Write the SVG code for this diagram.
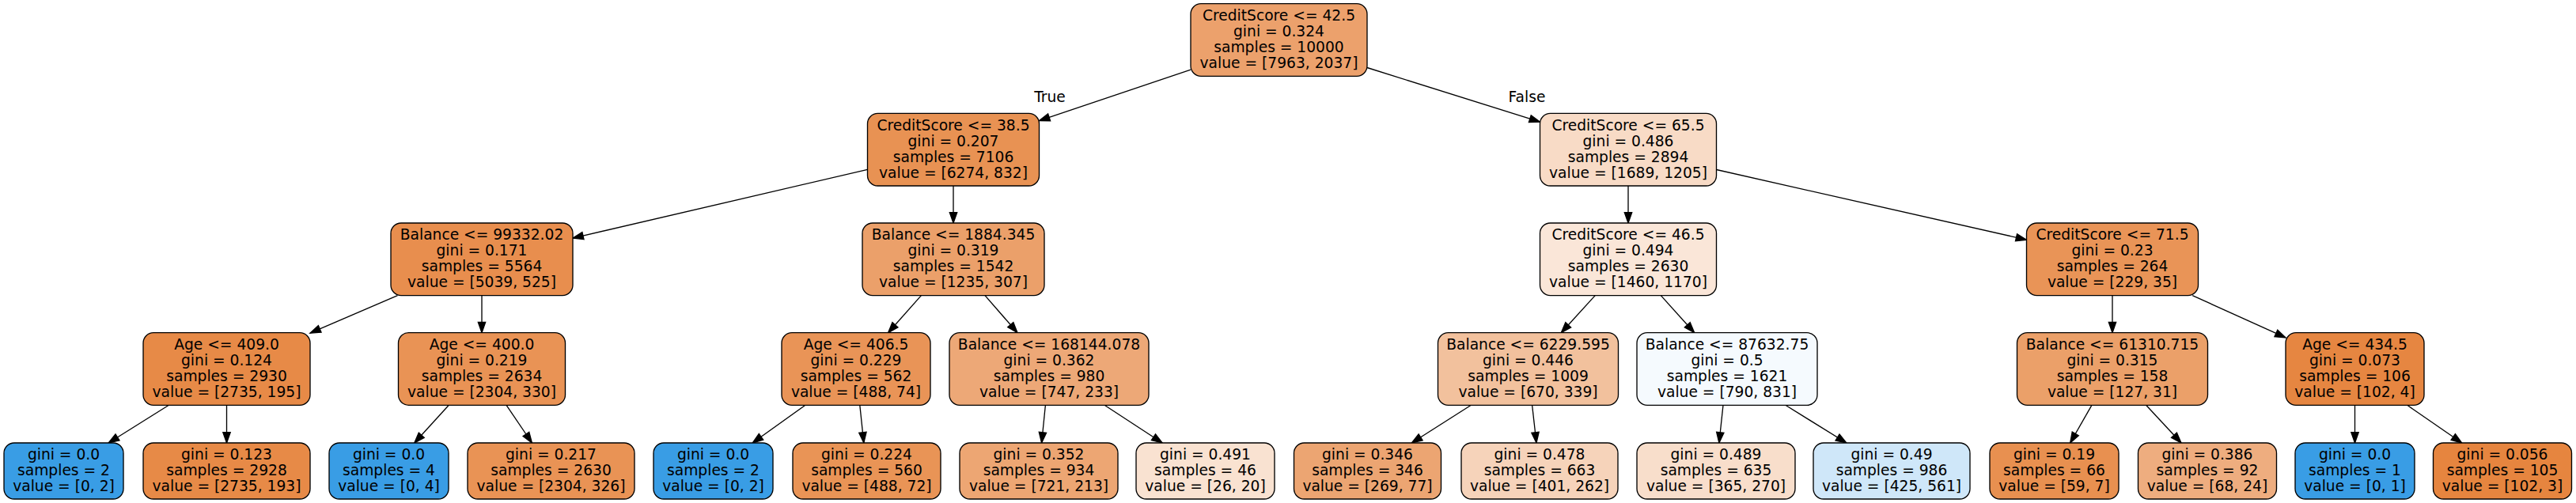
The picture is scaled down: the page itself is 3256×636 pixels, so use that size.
<svg xmlns="http://www.w3.org/2000/svg" width="3256" height="636" viewBox="0 0 3256 636">
<style>
.n rect{stroke:#000;stroke-width:1.33}
.n text,.lbl{font-family:"DejaVu Sans","Liberation Sans",sans-serif;font-size:18.67px;fill:#000;text-anchor:middle}
#edges line{stroke:#000;stroke-width:1.33;marker-end:url(#ah)}
</style>
<defs>
<marker id="ah" viewBox="0 -6 16 12" markerWidth="16" markerHeight="12" refX="13.3" refY="0" orient="auto" markerUnits="userSpaceOnUse" overflow="visible">
<path d="M0,-4.67 L13.3,0 L0,4.67 Z" fill="#000" stroke="#000" stroke-width="1.33"/>
</marker>
</defs>
<rect width="3256" height="636" fill="#fff"/>
<g id="edges">
<line x1="1505" y1="88.1" x2="1313.5" y2="152.6"/>
<line x1="1728" y1="85.5" x2="1946.5" y2="154.2"/>
<line x1="1096.5" y1="214.4" x2="724" y2="301.1"/>
<line x1="1205" y1="235" x2="1205" y2="282"/>
<line x1="502.5" y1="373.6" x2="392" y2="421.1"/>
<line x1="609" y1="373.6" x2="609" y2="420.7"/>
<line x1="213.4" y1="512.3" x2="137.2" y2="560"/>
<line x1="286.5" y1="512.3" x2="286.5" y2="560"/>
<line x1="567.3" y1="512.3" x2="523.8" y2="560"/>
<line x1="640.1" y1="512.3" x2="672.4" y2="560"/>
<line x1="1164.4" y1="373.6" x2="1122.6" y2="420.7"/>
<line x1="1245" y1="373.6" x2="1286" y2="420.7"/>
<line x1="1017.9" y1="512.3" x2="951.2" y2="560"/>
<line x1="1086.8" y1="512.3" x2="1091.8" y2="560"/>
<line x1="1321.4" y1="512.3" x2="1316.6" y2="560"/>
<line x1="1396.1" y1="512.3" x2="1469.1" y2="560"/>
<line x1="2058" y1="235" x2="2058" y2="282"/>
<line x1="2169.5" y1="214.5" x2="2561.5" y2="303.2"/>
<line x1="2016.2" y1="373.6" x2="1973.3" y2="420.7"/>
<line x1="2099.3" y1="373.6" x2="2141.7" y2="420.7"/>
<line x1="1859.4" y1="512.3" x2="1784.4" y2="560"/>
<line x1="1936.6" y1="512.3" x2="1942" y2="560"/>
<line x1="2178" y1="512.3" x2="2172.9" y2="560"/>
<line x1="2256.8" y1="512.3" x2="2333.8" y2="560"/>
<line x1="2670" y1="373.6" x2="2670" y2="420.7"/>
<line x1="2771.2" y1="373.6" x2="2889" y2="426.9"/>
<line x1="2643.9" y1="512.3" x2="2616.7" y2="560"/>
<line x1="2712.6" y1="512.3" x2="2757" y2="560"/>
<line x1="2976.5" y1="512.3" x2="2976.5" y2="560"/>
<line x1="3042.7" y1="512.3" x2="3111.7" y2="560"/>
<text class="lbl" x="1327" y="128.5">True</text>
<text class="lbl" x="1930" y="129">False</text>
</g>
<g id="n0" class="n"><rect x="1505" y="4.7" width="223" height="91.6" rx="13" fill="#eca16c"/><text><tspan x="1616.5" y="26">CreditScore &lt;= 42.5</tspan><tspan x="1616.5" y="46">gini = 0.324</tspan><tspan x="1616.5" y="66">samples = 10000</tspan><tspan x="1616.5" y="86">value = [7963, 2037]</tspan></text></g>
<g id="n1" class="n"><rect x="1096.5" y="143.4" width="217" height="91.6" rx="13" fill="#e89253"/><text><tspan x="1205" y="164.7">CreditScore &lt;= 38.5</tspan><tspan x="1205" y="184.7">gini = 0.207</tspan><tspan x="1205" y="204.7">samples = 7106</tspan><tspan x="1205" y="224.7">value = [6274, 832]</tspan></text></g>
<g id="n2" class="n"><rect x="494" y="282" width="230" height="91.6" rx="13" fill="#e88e4e"/><text><tspan x="609" y="303.3">Balance &lt;= 99332.02</tspan><tspan x="609" y="323.3">gini = 0.171</tspan><tspan x="609" y="343.3">samples = 5564</tspan><tspan x="609" y="363.3">value = [5039, 525]</tspan></text></g>
<g id="n3" class="n"><rect x="181" y="420.7" width="211" height="91.6" rx="13" fill="#e78a47"/><text><tspan x="286.5" y="442">Age &lt;= 409.0</tspan><tspan x="286.5" y="462">gini = 0.124</tspan><tspan x="286.5" y="482">samples = 2930</tspan><tspan x="286.5" y="502">value = [2735, 195]</tspan></text></g>
<g id="n4" class="n"><rect x="5" y="560" width="151" height="71" rx="13" fill="#399de5"/><text><tspan x="80.5" y="581">gini = 0.0</tspan><tspan x="80.5" y="601">samples = 2</tspan><tspan x="80.5" y="621">value = [0, 2]</tspan></text></g>
<g id="n5" class="n"><rect x="181" y="560" width="211" height="71" rx="13" fill="#e78a47"/><text><tspan x="286.5" y="581">gini = 0.123</tspan><tspan x="286.5" y="601">samples = 2928</tspan><tspan x="286.5" y="621">value = [2735, 193]</tspan></text></g>
<g id="n6" class="n"><rect x="503.5" y="420.7" width="211" height="91.6" rx="13" fill="#e99355"/><text><tspan x="609" y="442">Age &lt;= 400.0</tspan><tspan x="609" y="462">gini = 0.219</tspan><tspan x="609" y="482">samples = 2634</tspan><tspan x="609" y="502">value = [2304, 330]</tspan></text></g>
<g id="n7" class="n"><rect x="416" y="560" width="151" height="71" rx="13" fill="#399de5"/><text><tspan x="491.5" y="581">gini = 0.0</tspan><tspan x="491.5" y="601">samples = 4</tspan><tspan x="491.5" y="621">value = [0, 4]</tspan></text></g>
<g id="n8" class="n"><rect x="591" y="560" width="211" height="71" rx="13" fill="#e99355"/><text><tspan x="696.5" y="581">gini = 0.217</tspan><tspan x="696.5" y="601">samples = 2630</tspan><tspan x="696.5" y="621">value = [2304, 326]</tspan></text></g>
<g id="n9" class="n"><rect x="1090" y="282" width="230" height="91.6" rx="13" fill="#eba06a"/><text><tspan x="1205" y="303.3">Balance &lt;= 1884.345</tspan><tspan x="1205" y="323.3">gini = 0.319</tspan><tspan x="1205" y="343.3">samples = 1542</tspan><tspan x="1205" y="363.3">value = [1235, 307]</tspan></text></g>
<g id="n10" class="n"><rect x="988" y="420.7" width="188" height="91.6" rx="13" fill="#e99457"/><text><tspan x="1082" y="442">Age &lt;= 406.5</tspan><tspan x="1082" y="462">gini = 0.229</tspan><tspan x="1082" y="482">samples = 562</tspan><tspan x="1082" y="502">value = [488, 74]</tspan></text></g>
<g id="n11" class="n"><rect x="826" y="560" width="151" height="71" rx="13" fill="#399de5"/><text><tspan x="901.5" y="581">gini = 0.0</tspan><tspan x="901.5" y="601">samples = 2</tspan><tspan x="901.5" y="621">value = [0, 2]</tspan></text></g>
<g id="n12" class="n"><rect x="1002" y="560" width="187" height="71" rx="13" fill="#e99456"/><text><tspan x="1095.5" y="581">gini = 0.224</tspan><tspan x="1095.5" y="601">samples = 560</tspan><tspan x="1095.5" y="621">value = [488, 72]</tspan></text></g>
<g id="n13" class="n"><rect x="1200" y="420.7" width="252" height="91.6" rx="13" fill="#eda877"/><text><tspan x="1326" y="442">Balance &lt;= 168144.078</tspan><tspan x="1326" y="462">gini = 0.362</tspan><tspan x="1326" y="482">samples = 980</tspan><tspan x="1326" y="502">value = [747, 233]</tspan></text></g>
<g id="n14" class="n"><rect x="1213" y="560" width="200" height="71" rx="13" fill="#eda673"/><text><tspan x="1313" y="581">gini = 0.352</tspan><tspan x="1313" y="601">samples = 934</tspan><tspan x="1313" y="621">value = [721, 213]</tspan></text></g>
<g id="n15" class="n"><rect x="1436" y="560" width="175" height="71" rx="13" fill="#f9e2d1"/><text><tspan x="1523.5" y="581">gini = 0.491</tspan><tspan x="1523.5" y="601">samples = 46</tspan><tspan x="1523.5" y="621">value = [26, 20]</tspan></text></g>
<g id="n16" class="n"><rect x="1946.5" y="143.4" width="223" height="91.6" rx="13" fill="#f8dbc6"/><text><tspan x="2058" y="164.7">CreditScore &lt;= 65.5</tspan><tspan x="2058" y="184.7">gini = 0.486</tspan><tspan x="2058" y="204.7">samples = 2894</tspan><tspan x="2058" y="224.7">value = [1689, 1205]</tspan></text></g>
<g id="n17" class="n"><rect x="1946.5" y="282" width="223" height="91.6" rx="13" fill="#fae6d8"/><text><tspan x="2058" y="303.3">CreditScore &lt;= 46.5</tspan><tspan x="2058" y="323.3">gini = 0.494</tspan><tspan x="2058" y="343.3">samples = 2630</tspan><tspan x="2058" y="363.3">value = [1460, 1170]</tspan></text></g>
<g id="n18" class="n"><rect x="1817.5" y="420.7" width="228" height="91.6" rx="13" fill="#f2c19d"/><text><tspan x="1931.5" y="442">Balance &lt;= 6229.595</tspan><tspan x="1931.5" y="462">gini = 0.446</tspan><tspan x="1931.5" y="482">samples = 1009</tspan><tspan x="1931.5" y="502">value = [670, 339]</tspan></text></g>
<g id="n19" class="n"><rect x="1635.5" y="560" width="186" height="71" rx="13" fill="#eca572"/><text><tspan x="1728.5" y="581">gini = 0.346</tspan><tspan x="1728.5" y="601">samples = 346</tspan><tspan x="1728.5" y="621">value = [269, 77]</tspan></text></g>
<g id="n20" class="n"><rect x="1847" y="560" width="198" height="71" rx="13" fill="#f6d3ba"/><text><tspan x="1946" y="581">gini = 0.478</tspan><tspan x="1946" y="601">samples = 663</tspan><tspan x="1946" y="621">value = [401, 262]</tspan></text></g>
<g id="n21" class="n"><rect x="2069" y="420.7" width="228" height="91.6" rx="13" fill="#f5fafe"/><text><tspan x="2183" y="442">Balance &lt;= 87632.75</tspan><tspan x="2183" y="462">gini = 0.5</tspan><tspan x="2183" y="482">samples = 1621</tspan><tspan x="2183" y="502">value = [790, 831]</tspan></text></g>
<g id="n22" class="n"><rect x="2069" y="560" width="200" height="71" rx="13" fill="#f8decb"/><text><tspan x="2169" y="581">gini = 0.489</tspan><tspan x="2169" y="601">samples = 635</tspan><tspan x="2169" y="621">value = [365, 270]</tspan></text></g>
<g id="n23" class="n"><rect x="2292" y="560" width="198" height="71" rx="13" fill="#cfe7f9"/><text><tspan x="2391" y="581">gini = 0.49</tspan><tspan x="2391" y="601">samples = 986</tspan><tspan x="2391" y="621">value = [425, 561]</tspan></text></g>
<g id="n24" class="n"><rect x="2561.5" y="282" width="217" height="91.6" rx="13" fill="#e99457"/><text><tspan x="2670" y="303.3">CreditScore &lt;= 71.5</tspan><tspan x="2670" y="323.3">gini = 0.23</tspan><tspan x="2670" y="343.3">samples = 264</tspan><tspan x="2670" y="363.3">value = [229, 35]</tspan></text></g>
<g id="n25" class="n"><rect x="2549.5" y="420.7" width="241" height="91.6" rx="13" fill="#eba069"/><text><tspan x="2670" y="442">Balance &lt;= 61310.715</tspan><tspan x="2670" y="462">gini = 0.315</tspan><tspan x="2670" y="482">samples = 158</tspan><tspan x="2670" y="502">value = [127, 31]</tspan></text></g>
<g id="n26" class="n"><rect x="2515" y="560" width="163" height="71" rx="13" fill="#e89050"/><text><tspan x="2596.5" y="581">gini = 0.19</tspan><tspan x="2596.5" y="601">samples = 66</tspan><tspan x="2596.5" y="621">value = [59, 7]</tspan></text></g>
<g id="n27" class="n"><rect x="2702.5" y="560" width="175" height="71" rx="13" fill="#eead7f"/><text><tspan x="2790" y="581">gini = 0.386</tspan><tspan x="2790" y="601">samples = 92</tspan><tspan x="2790" y="621">value = [68, 24]</tspan></text></g>
<g id="n28" class="n"><rect x="2889" y="420.7" width="175" height="91.6" rx="13" fill="#e68641"/><text><tspan x="2976.5" y="442">Age &lt;= 434.5</tspan><tspan x="2976.5" y="462">gini = 0.073</tspan><tspan x="2976.5" y="482">samples = 106</tspan><tspan x="2976.5" y="502">value = [102, 4]</tspan></text></g>
<g id="n29" class="n"><rect x="2901" y="560" width="151" height="71" rx="13" fill="#399de5"/><text><tspan x="2976.5" y="581">gini = 0.0</tspan><tspan x="2976.5" y="601">samples = 1</tspan><tspan x="2976.5" y="621">value = [0, 1]</tspan></text></g>
<g id="n30" class="n"><rect x="3075.5" y="560" width="175" height="71" rx="13" fill="#e6853f"/><text><tspan x="3163" y="581">gini = 0.056</tspan><tspan x="3163" y="601">samples = 105</tspan><tspan x="3163" y="621">value = [102, 3]</tspan></text></g>
</svg>
